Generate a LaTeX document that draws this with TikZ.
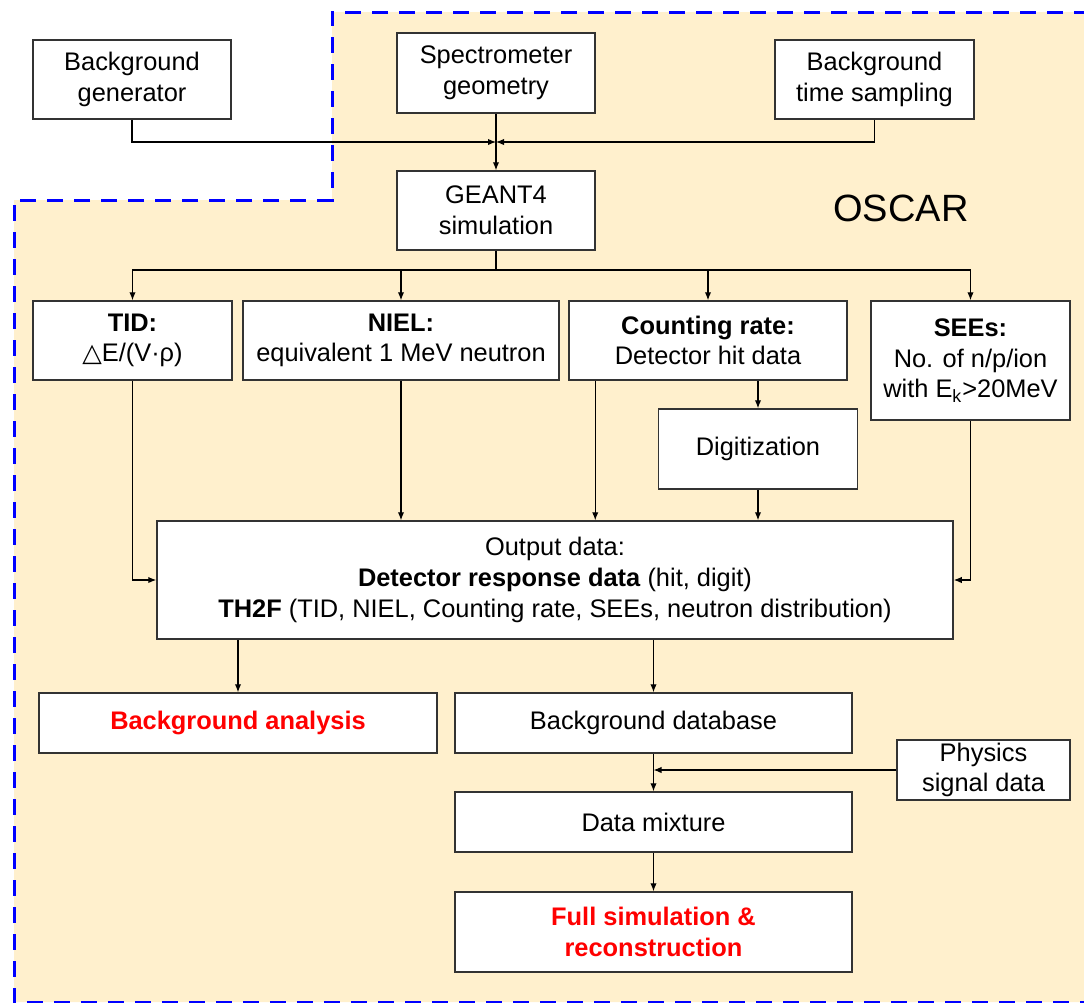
\documentclass[tikz,border=0pt]{standalone}
\usepackage{fontspec}
\setmainfont{Liberation Sans}
\newfontfamily\trifont{DejaVu Sans}
\usetikzlibrary{arrows.meta}
\definecolor{oscarfill}{RGB}{255,240,205}
\definecolor{oscarblue}{RGB}{0,0,255}
\definecolor{oscarred}{RGB}{255,0,0}
\tikzset{
	box/.style={draw=black!80, line width=0.75pt, fill=white, align=center, inner sep=0pt, font=\fontsize{12.7}{15.3}\selectfont},
	flow/.style={line width=0.6pt, -{Latex[length=4pt,width=3.2pt]}},
	plain/.style={line width=0.6pt},
}

\begin{document}
\begin{tikzpicture}[x=0.5pt, y=-0.5pt]
		%%%%% START %%%%%
		\useasboundingbox (0, 0) rectangle (1084, 1003);
		
		% OSCAR region
		\fill[oscarfill] (332, 12) -- (1090, 12) -- (1090, 1002) -- (14, 1002) -- (14, 200) -- (332, 200) -- cycle;
		\draw[oscarblue, line width=1.5pt, dash pattern=on 8pt off 5.5pt] (1090, 12) -- (332, 12) -- (332, 200) -- (14, 200) -- (14, 1002) -- (1090, 1002);
		\node[font=\fontsize{19}{22}\selectfont] (oscar) at (901, 208) {OSCAR};
		
		% inputs
		\node[box, minimum width=99pt, minimum height=39.5pt] (bggen) at (132, 79.5) {Background\\generator};
		\node[box, minimum width=99pt, minimum height=40pt] (spec) at (496, 73) {Spectrometer\\geometry};
		\node[box, minimum width=99.5pt, minimum height=39.5pt] (bgtime) at (874.5, 79.5) {Background\\time sampling};
		\node[box, minimum width=99pt, minimum height=39.5pt] (geant) at (496, 210.5) {GEANT4\\simulation};
		\coordinate (join) at (496, 142);
		\coordinate (split) at (496, 270);
		
		% quantities
		\node[box, minimum width=99.5pt, minimum height=39.5pt] (tid) at (132.5, 340.5) {\textbf{TID:}\\{\trifont △}E/(V·ρ)};
		\node[box, minimum width=158pt, minimum height=39.5pt] (niel) at (401, 340.5) {\textbf{NIEL:}\\equivalent 1 MeV neutron};
		\node[box, minimum width=139pt, minimum height=39.5pt] (count) at (708, 340.5) {\textbf{Counting rate:}\\Detector hit data};
		\node[box, minimum width=99.5pt, minimum height=59.5pt] (sees) at (970.5, 360.5) {\textbf{SEEs:}\\No. of n/p/ion\\with E\textsubscript{k}>20MeV};
		\node[box, minimum width=99.5pt, minimum height=40pt] (digit) at (758, 449) {Digitization};
		
		\node[box, minimum width=398pt, minimum height=59pt] (output) at (555, 580) {Output data:\\\textbf{Detector response data} (hit, digit)\\\textbf{TH2F} (TID, NIEL, Counting rate, SEEs, neutron distribution)};
		
		% results
		\node[box, minimum width=199pt, minimum height=30pt, text=oscarred, font=\fontsize{12.7}{15.3}\selectfont\bfseries] (bgana) at (238, 723) {Background analysis};
		\node[box, minimum width=198.5pt, minimum height=30pt] (bgdb) at (653.5, 723) {Background database};
		\node[box, minimum width=86.5pt, minimum height=30pt] (phys) at (983.5, 770) {Physics\\signal data};
		\node[box, minimum width=198.5pt, minimum height=30pt] (mix) at (653.5, 822) {Data mixture};
		\node[box, minimum width=198.5pt, minimum height=40pt, text=oscarred, font=\fontsize{12.7}{15.3}\selectfont\bfseries] (full) at (653.5, 932) {Full simulation \&\\reconstruction};
		
		% connectors
		\draw[flow] (bggen.south) |- (join);
		\draw[flow] (bgtime.south) |- (join);
		\draw[flow] (spec) -- (geant);
		
		\draw[plain] (geant.south) -- (split);
		\draw[flow] (split) -| (tid.north);
		\draw[flow] (split) -| (niel.north);
		\draw[flow] (split) -| (count.north);
		\draw[flow] (split) -| (sees.north);
		
		\draw[flow] (tid.south) |- (output.west);
		\draw[flow] (sees.south) |- (output.east);
		\draw[flow] (niel.south) -- (niel.south |- output.north);
		\draw[flow] ([xshift=13.5pt]count.south west) -- ([xshift=13.5pt]count.south west |- output.north);
		\draw[flow] (count.south -| digit.north) -- (digit.north);
		\draw[flow] (digit.south) -- (digit.south |- output.north);
		
		\draw[flow] (bgana.north |- output.south) -- (bgana.north);
		\draw[flow] (bgdb.north |- output.south) -- (bgdb.north);
		\draw[flow] (bgdb) -- (mix);
		\draw[flow] (phys.west) -- (phys.west -| bgdb.south);
		\draw[flow] (mix) -- (full);
		%%%%% END %%%%%
\end{tikzpicture}
\end{document}
